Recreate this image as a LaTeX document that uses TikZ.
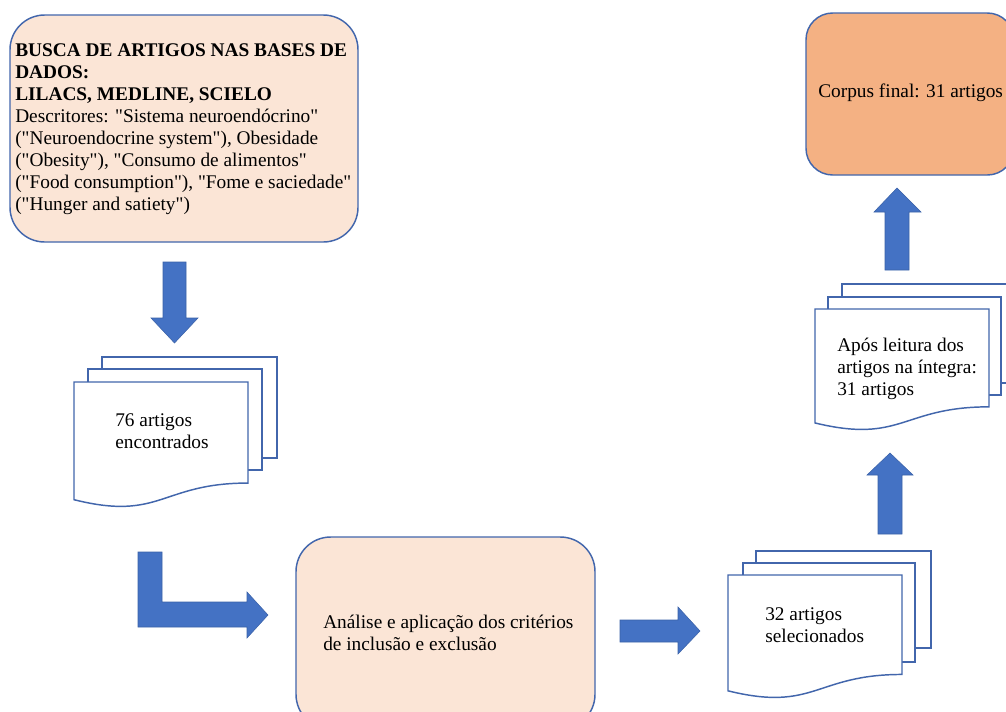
\documentclass[tikz,border=0pt]{standalone}
\usepackage{fontspec}
\setmainfont{Liberation Serif}
\definecolor{peach}{HTML}{FBE5D6}
\definecolor{corpusfill}{HTML}{F4B183}
\definecolor{bord}{HTML}{4266AC}
\definecolor{arrowblue}{HTML}{4472C4}
\newcommand\qq{\textquotedbl}
\newcommand\frontdoc[4]{%
  \draw[docline] (#1,#2) -- (#3,#2) -- (#3,{#2+0.802*#4})
    .. controls ({(#1+#3)/2},{#2+0.802*#4}) and ({(#1+#3)/2},{#2+1.107*#4}) .. (#1,{#2+0.934*#4}) -- cycle;}
\begin{document}
\begin{tikzpicture}[x=0.75pt,y=-0.75pt,
  txt/.style={font=\fontsize{14.5}{16.5}\selectfont, align=left, inner sep=0pt},
  roundbox/.style={draw=bord, line width=1.1pt, rounded corners=26pt, fill=peach},
  docline/.style={draw=bord, line width=1.1pt, fill=white},
  blockarrow/.style={fill=arrowblue, draw=arrowblue!85!black, line width=0.4pt}]
\useasboundingbox (0,0) rectangle (1006,711);
\clip (0,0) rectangle (1006,711);

% Box 1
\node[roundbox, minimum width=261pt, minimum height=170.25pt, inner sep=0pt] (busca) at (184,128.5) {};
\node[txt, anchor=north west] (buscatxt) at (15,43) {\textbf{BUSCA DE ARTIGOS NAS BASES DE}\\
\textbf{DADOS:}\\
\textbf{LILACS, MEDLINE, SCIELO}\\
Descritores: \qq Sistema neuroendócrino\qq\\
(\qq Neuroendocrine system\qq), Obesidade\\
(\qq Obesity\qq), \qq Consumo de alimentos\qq\\
(\qq Food consumption\qq), \qq Fome e saciedade\qq\\
(\qq Hunger and satiety\qq)};

% Box 2
\node[roundbox, minimum width=224.25pt, minimum height=144pt, inner sep=0pt] (analise) at (445.5,633) {};
\node[txt, anchor=base west] (analisetxt) at (323,650) {Análise e aplicação dos critérios\\de inclusão e exclusão};

% Corpus box
\node[roundbox, fill=corpusfill, rounded corners=20pt, minimum width=156pt, minimum height=121.5pt, inner sep=0pt] (corpus) at (910,94) {};
\node[txt, anchor=base west] (corpustxt) at (818,97) {Corpus final: 31 artigos};

% Doc 76
\draw[docline] (102,369) |- (277,357) |- (262,458);
\draw[docline] (88,382) |- (262,369) |- (248,470);
\frontdoc{74}{382}{248}{126}
\node[txt, anchor=base west] (doc76) at (115,448) {76 artigos\\encontrados};

% Doc 32
\draw[docline] (756,563) |- (931,551) |- (915,648);
\draw[docline] (743,575) |- (915,563) |- (902,662);
\frontdoc{728}{575}{902}{124}
\node[txt, anchor=base west] (doc32) at (765,642) {32 artigos\\selecionados};

% Doc Apos
\draw[docline] (842,297) |- (1015,284) |- (1001,383);
\draw[docline] (828,309) |- (1001,297) |- (989,395);
\frontdoc{815}{309}{989}{122}
\node[txt, anchor=base west] (docapos) at (837,395) {Após leitura dos\\artigos na íntegra:\\31 artigos};

% Block arrows
\fill[blockarrow] (163,262) -- (186,262) -- (186,318) -- (198,318) -- (174.5,343) -- (151,318) -- (163,318) -- cycle;
\fill[blockarrow] (138,552) -- (162,552) -- (162,602) -- (247,602) -- (247,592) -- (268,615) -- (247,638) -- (247,627) -- (138,627) -- cycle;
\fill[blockarrow] (620,620) -- (678,620) -- (678,607) -- (700,631) -- (678,654) -- (678,642) -- (620,642) -- cycle;
\fill[blockarrow] (878,534) -- (878,475) -- (867,475) -- (890,453) -- (913,475) -- (902,475) -- (902,534) -- cycle;
\fill[blockarrow] (885,270) -- (885,212) -- (874,212) -- (897,188) -- (921,212) -- (909,212) -- (909,270) -- cycle;
\end{tikzpicture}
\end{document}
